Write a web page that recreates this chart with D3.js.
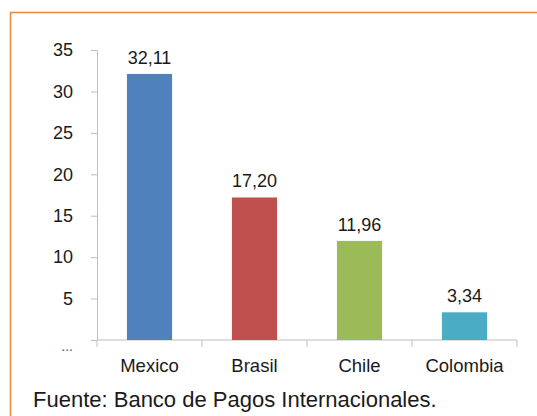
<!DOCTYPE html>
<html>
<head>
<meta charset="utf-8">
<script src="https://cdn.jsdelivr.net/npm/d3@7"></script>
<style>
  html, body { margin: 0; padding: 0; background: #fff; }
  svg { display: block; font-family: "Liberation Sans", Arial, sans-serif; }
</style>
</head>
<body>
<div id="chart"></div>
<script>
// Chart data
const countries = ["Mexico", "Brasil", "Chile", "Colombia"];
const values = [32.11, 17.20, 11.96, 3.34];
const valueLabels = ["32,11", "17,20", "11,96", "3,34"];
const barColors = ["#4F81BD", "#C0504D", "#9BBB59", "#4BACC6"];
const yTicks = [0, 5, 10, 15, 20, 25, 30, 35];
const source = "Fuente: Banco de Pagos Internacionales.";

const width = 537, height = 416;

const svg = d3.select("#chart")
  .append("svg")
  .attr("width", width)
  .attr("height", height);

// orange frame (top and left edges visible)
svg.append("path")
  .attr("d", `M10.5,${height} V12.5 H${width}`)
  .attr("fill", "none")
  .attr("stroke", "#F0883A")
  .attr("stroke-width", 1.5);

const x = d3.scaleBand()
  .domain(countries)
  .range([97, 517]);

const y = d3.scaleLinear()
  .domain([0, 35])
  .range([340, 50]);

const axisColor = "#BFBFBF";
const textColor = "#1A1A1A";

// y axis
const yAxis = svg.append("g")
  .attr("transform", "translate(97,0)")
  .call(d3.axisLeft(y).tickValues(yTicks).tickSize(6).tickSizeOuter(0)
    .tickFormat(d => d === 0 ? "..." : d));
yAxis.select(".domain").attr("stroke", axisColor);
yAxis.selectAll(".tick line").attr("stroke", axisColor);
yAxis.selectAll(".tick text")
  .attr("x", -24)
  .attr("fill", textColor)
  .style("font-size", "18px");
yAxis.selectAll(".tick").filter(d => d === 0).select("text")
  .attr("dy", "0.75em")
  .attr("fill", "#555")
  .style("font-size", "14px");

// x axis line + ticks at band edges
const xAxis = svg.append("g");
xAxis.append("line")
  .attr("x1", x.range()[0]).attr("x2", x.range()[1])
  .attr("y1", y(0)).attr("y2", y(0))
  .attr("stroke", axisColor);
const edges = countries.map(c => x(c)).concat([x.range()[1]]);
xAxis.selectAll(".xtick")
  .data(edges)
  .enter()
  .append("line")
  .attr("class", "xtick")
  .attr("x1", d => d).attr("x2", d => d)
  .attr("y1", y(0)).attr("y2", y(0) + 7)
  .attr("stroke", axisColor);

// bars
const barW = x.bandwidth() * 0.43;
svg.selectAll(".bar")
  .data(values)
  .enter()
  .append("rect")
  .attr("class", "bar")
  .attr("x", (d, i) => x(countries[i]) + (x.bandwidth() - barW) / 2)
  .attr("y", d => y(d))
  .attr("width", barW)
  .attr("height", d => y(0) - y(d))
  .attr("fill", (d, i) => barColors[i]);

// value labels
svg.selectAll(".val")
  .data(values)
  .enter()
  .append("text")
  .attr("class", "val")
  .attr("x", (d, i) => x(countries[i]) + x.bandwidth() / 2)
  .attr("y", d => y(d) - 10)
  .attr("text-anchor", "middle")
  .attr("fill", textColor)
  .style("font-size", "18px")
  .text((d, i) => valueLabels[i]);

// category labels
svg.selectAll(".cat")
  .data(countries)
  .enter()
  .append("text")
  .attr("class", "cat")
  .attr("x", d => x(d) + x.bandwidth() / 2)
  .attr("y", 372)
  .attr("text-anchor", "middle")
  .attr("fill", textColor)
  .style("font-size", "18.5px")
  .text(d => d);

// source note
svg.append("text")
  .attr("x", 33)
  .attr("y", 407)
  .attr("fill", textColor)
  .style("font-size", "22px")
  .text(source);
</script>
</body>
</html>
